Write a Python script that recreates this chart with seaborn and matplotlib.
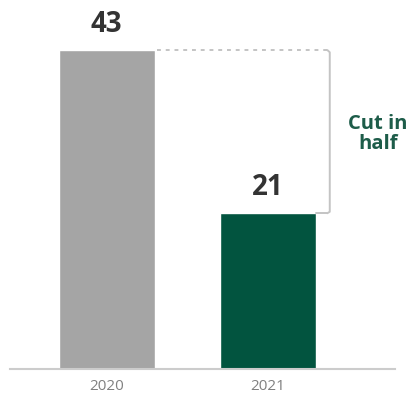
import matplotlib
matplotlib.use("Agg")
import matplotlib.pyplot as plt
import seaborn as sns
import pandas as pd

years = ["2020", "2021"]
values = [43, 21]
colors = ["#a5a5a5", "#02543f"]
note = "Cut in\nhalf"

sns.set_theme(style="white")
plt.rcParams['font.family'] = ['Open Sans', 'DejaVu Sans']

df = pd.DataFrame({"year": years, "value": values})

fig = plt.figure(figsize=(4.10, 3.94), dpi=100)
ax = fig.add_axes([10/410, 25/394, 385/410, 359/394])

sns.barplot(data=df, x="year", y="value", hue="year", palette=colors,
            width=0.595, ax=ax, legend=False, saturation=1)

ax.set_xlim(-0.60, 1.79)
ax.set_ylim(0, 48.4)

for i, v in enumerate(values):
    ax.text(i, v + 1.5, str(v), ha="center", va="bottom", fontsize=20,
            fontweight="bold", color="#333333")

# bracket
top, low = values[0], values[1]
ax.plot([0.31, 1.37], [top, top], color="#c4c4c4", lw=1.4, ls=(0, (2, 2.5)))
ax.plot([1.37, 1.385, 1.385, 1.37], [top, top - 0.3, low + 0.2, low],
        color="#c4c4c4", lw=1.4, solid_joinstyle="round")
ax.plot([1.30, 1.37], [low, low], color="#c4c4c4", lw=1.4)

ax.text(1.685, (top + low) / 2 - 0.3, note, ha="center", va="center",
        fontsize=14.5, fontweight="bold", color="#1d5c49", linespacing=1.0)

for s in ["top", "right", "left"]:
    ax.spines[s].set_visible(False)
ax.spines["bottom"].set_color("#cccccc")
ax.spines["bottom"].set_linewidth(1.5)
ax.set_yticks([])
ax.set_xlabel("")
ax.set_ylabel("")
ax.tick_params(axis="x", length=0, pad=7, labelsize=11, labelcolor="#808080")

fig.savefig("out.png", dpi=100)
